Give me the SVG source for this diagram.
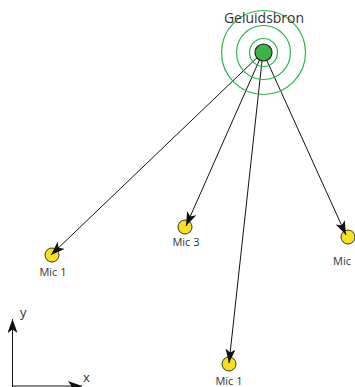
<svg xmlns="http://www.w3.org/2000/svg" width="355" height="387" viewBox="0 0 355 387">
  <style>
    .ring { fill: none; stroke: #2bb24c; stroke-width: 1.2; }
    .src { fill: #3bb54a; stroke: #222; stroke-width: 1.2; }
    .mic { fill: #f7e11b; stroke: #333; stroke-width: 1; }
    .ray { stroke: #111; stroke-width: 1; fill: none; marker-end: url(#head); }
    .axis { stroke: #111; stroke-width: 1; fill: none; marker-end: url(#head); }
    .lbl { font-family: "Open Sans", "Liberation Sans", sans-serif; fill: #333; }
    .mlbl { font-size: 11px; text-anchor: middle; }
  </style>
  <defs>
    <marker id="head" viewBox="0 0 14 10" refX="14" refY="5" markerWidth="14" markerHeight="10" markerUnits="userSpaceOnUse" orient="auto">
      <path d="M0,0 L14,5 L0,10 L3.5,5 Z" fill="#111"/>
    </marker>
  </defs>

  <g id="mic1-left">
    <circle class="mic" cx="52" cy="255" r="7"/>
    <text class="lbl mlbl" x="53" y="276">Mic 1</text>
  </g>

  <g id="mic3">
    <circle class="mic" cx="185" cy="227" r="7"/>
    <text class="lbl mlbl" x="186" y="246">Mic 3</text>
  </g>

  <g id="mic-right">
    <circle class="mic" cx="348" cy="237" r="7"/>
    <text class="lbl" x="333" y="265" font-size="11">Mic</text>
  </g>

  <g id="mic1-bottom">
    <circle class="mic" cx="229" cy="364" r="7"/>
    <text class="lbl mlbl" x="229" y="385">Mic 1</text>
  </g>

  <!-- rays from the source to each microphone, heads drawn over the mics -->
  <g id="connectors">
    <line class="ray" x1="263" y1="52" x2="51" y2="255"/>
    <line class="ray" x1="263" y1="52" x2="186" y2="226"/>
    <line class="ray" x1="263" y1="52" x2="346" y2="235"/>
    <line class="ray" x1="263" y1="52" x2="229" y2="363"/>
  </g>

  <g id="source">
    <circle class="ring" cx="263.5" cy="52.5" r="42"/>
    <circle class="ring" cx="263.5" cy="52.5" r="27"/>
    <circle class="ring" cx="263.5" cy="52.5" r="14"/>
    <circle class="src" cx="263.5" cy="52.5" r="8.5"/>
    <text class="lbl" x="264" y="23" font-size="14" text-anchor="middle">Geluidsbron</text>
  </g>

  <!-- coordinate axes -->
  <g id="axes">
    <line class="axis" x1="12.5" y1="387" x2="12.5" y2="319"/>
    <line class="axis" x1="12" y1="386" x2="82" y2="386"/>
    <text class="lbl" x="20" y="317" font-size="13">y</text>
    <text class="lbl" x="83" y="382" font-size="13">x</text>
  </g>
</svg>
